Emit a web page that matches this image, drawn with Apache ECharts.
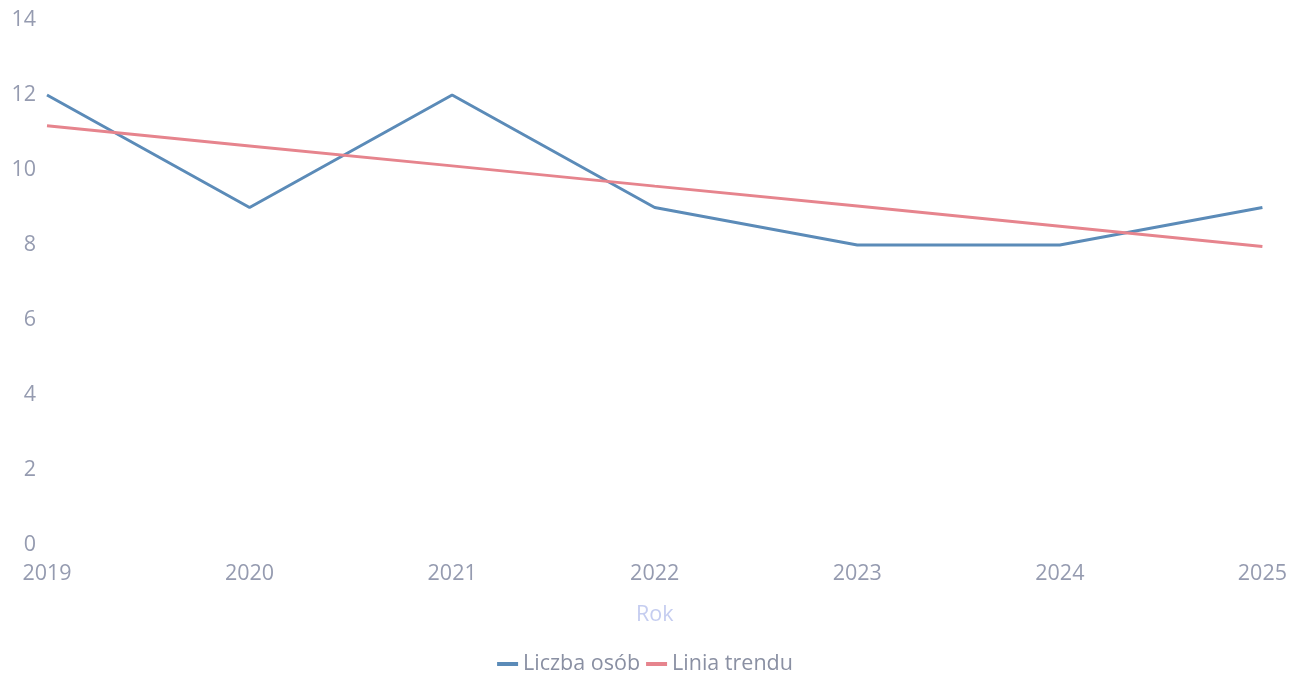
<!DOCTYPE html>
<html>
<head>
<meta charset="utf-8">
<script src="https://cdn.jsdelivr.net/npm/echarts@6/dist/echarts.min.js"></script>
<style>html,body{margin:0;padding:0;background:#fff}#c{width:1290px;height:674px}</style>
</head>
<body>
<div id="c"></div>
<script>
const years = ['2019','2020','2021','2022','2023','2024','2025'];
const liczbaOsob = [12, 9, 12, 9, 8, 8, 9];
const liniaTrendu = [11.18, 10.64, 10.11, 9.57, 9.04, 8.50, 7.96];
const yTicks = [0, 2, 4, 6, 8, 10, 12, 14];

const chart = echarts.init(document.getElementById('c'));
chart.setOption({
  animation: false,
  textStyle: { fontFamily: 'Open Sans' },
  grid: { left: 47, right: 26, top: 20, bottom: 129 },
  legend: {
    bottom: -6,
    left: 'center',
    icon: 'rect',
    itemWidth: 21,
    itemHeight: 4,
    itemGap: 6,
    textStyle: { color: '#8a90a3', fontSize: 21.5, fontFamily: 'Open Sans' },
    data: ['Liczba osób', 'Linia trendu']
  },
  xAxis: {
    type: 'category',
    data: years,
    boundaryGap: false,
    name: 'Rok',
    nameLocation: 'middle',
    nameGap: 59,
    nameTextStyle: { color: '#c5cdf0', fontSize: 21.5, fontFamily: 'Open Sans' },
    axisLine: { show: false },
    axisTick: { show: false },
    axisLabel: { color: '#959bb0', fontSize: 21.5, margin: 18, fontFamily: 'Open Sans' },
    splitLine: { show: false }
  },
  yAxis: {
    type: 'value',
    min: yTicks[0],
    max: yTicks[yTicks.length - 1],
    interval: 2,
    axisLine: { show: false },
    axisTick: { show: false },
    splitLine: { show: false },
    axisLabel: { color: '#959bb0', fontSize: 21.5, margin: 11, fontFamily: 'Open Sans' }
  },
  series: [
    {
      name: 'Liczba osób',
      type: 'line',
      data: liczbaOsob,
      showSymbol: false,
      lineStyle: { color: '#5b8bb8', width: 3 },
      itemStyle: { color: '#5b8bb8' }
    },
    {
      name: 'Linia trendu',
      type: 'line',
      data: liniaTrendu,
      showSymbol: false,
      lineStyle: { color: '#e6848d', width: 3 },
      itemStyle: { color: '#e6848d' }
    }
  ]
});
</script>
</body>
</html>
